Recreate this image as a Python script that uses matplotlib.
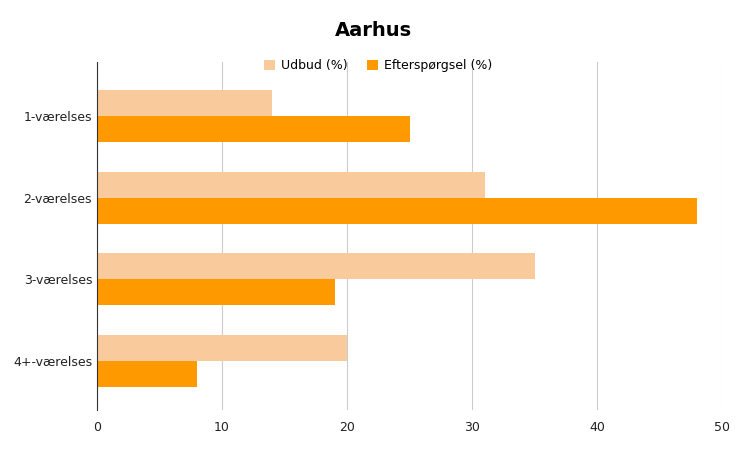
import matplotlib.pyplot as plt
import numpy as np

categories = ["1-værelses", "2-værelses", "3-værelses", "4+-værelses"]
udbud = [14, 31, 35, 20]
efterspoergsel = [25, 48, 19, 8]

fig = plt.figure(figsize=(7.46, 4.61), dpi=100)
ax = fig.add_axes([0.130, 0.111, 0.838, 0.755])

y = np.arange(len(categories))
h = 0.32
ax.barh(y - h / 2, udbud, height=h, color="#f9cb9c", label="Udbud (%)", zorder=2)
ax.barh(y + h / 2, efterspoergsel, height=h, color="#ff9900", label="Efterspørgsel (%)", zorder=2)

ax.set_xlim(0, 50)
ax.set_ylim(3.6, -0.67)
ax.set_xticks([0, 10, 20, 30, 40, 50])
ax.set_yticks(y)
ax.set_yticklabels(categories)
ax.tick_params(length=0, labelsize=9, colors="#222222")
ax.tick_params(axis="x", pad=8)
ax.grid(axis="x", color="#cccccc", linewidth=0.8, zorder=0)
for s in ["top", "right", "bottom"]:
    ax.spines[s].set_visible(False)
ax.spines["left"].set_color("#333333")
ax.spines["left"].set_zorder(3)

fig.suptitle("Aarhus", x=0.5, y=0.955, fontsize=14, fontweight="bold")
ax.legend(loc="upper center", bbox_to_anchor=(0.45, 1.04), ncol=2, frameon=False,
          fontsize=9, handlelength=0.9, handleheight=0.9, columnspacing=1.5,
          handletextpad=0.5)

fig.savefig("out.png", dpi=100)
